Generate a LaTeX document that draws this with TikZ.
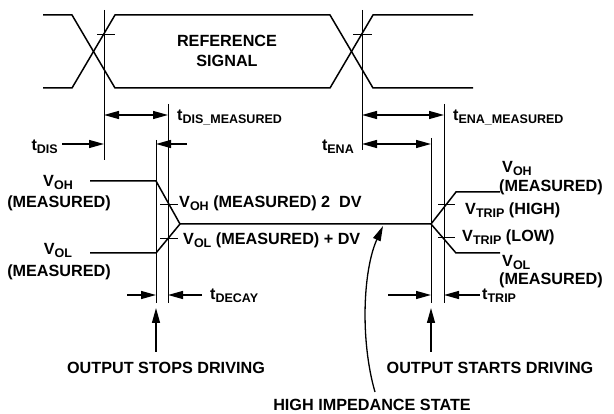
\documentclass[tikz,border=0pt]{standalone}
\usepackage{fontspec}
\setmainfont{Liberation Sans}
\usetikzlibrary{positioning, arrows.meta}

\newcommand{\lowsub}[1]{\raisebox{-2.5pt}{\fontsize{12.5}{12.5}\selectfont #1}}

\begin{document}
\begin{tikzpicture}[x=1pt, y=-1pt]
    % Styles
    \tikzstyle{wave} = [line width=1.5pt]
    \tikzstyle{guide} = [line width=1pt]
    \tikzstyle{dimarrow} = [line width=1.3pt, -{Triangle[length=15pt, width=8pt]}]
    \tikzstyle{dimboth} = [line width=1.3pt, {Triangle[length=15pt, width=8pt]}-{Triangle[length=15pt, width=8pt]}]
    \tikzstyle{lbl} = [font=\bfseries\fontsize{16.2}{19}\selectfont, inner sep=0pt]

    \useasboundingbox (0,0) rectangle (614,414);

    % Reference signal
    \draw[wave] (43,15) -- (72,15) -- (115,88) -- (330,88) -- (373,15) -- (473,15);
    \draw[wave] (43,88) -- (72,88) -- (115,15) -- (330,15) -- (373,88) -- (473,88);

    % Output signal
    \draw[wave] (90,181) -- (156,181) -- (180,224) -- (431,224) -- (456,192) -- (500,192);
    \draw[wave] (90,253) -- (156,253) -- (180,224);
    \draw[wave] (431,224) -- (456,253) -- (500,253);

    % Crossing marks
    \draw[guide] (97,35) -- (115,35);
    \draw[guide] (353,35) -- (372,35);
    \draw[guide] (160,205) -- (178,205);
    \draw[guide] (160,239) -- (178,239);
    \draw[guide] (438,205) -- (455,205);
    \draw[guide] (438,238) -- (455,238);

    % Coordinates
    \coordinate (dis top) at (104,10);
    \coordinate (dis bot) at (104,160);
    \coordinate (ena top) at (362,10);
    \coordinate (ena bot) at (362,150);
    \coordinate (stop top) at (156,140);
    \coordinate (stop bot) at (156,303);
    \coordinate (decay top) at (168,104);
    \coordinate (decay bot) at (168,303);
    \coordinate (start top) at (431,138);
    \coordinate (start bot) at (431,303);
    \coordinate (trip top) at (444,104);
    \coordinate (trip bot) at (444,303);

    % Guide lines
    \draw[guide] (dis top) -- (dis bot);
    \draw[guide] (ena top) -- (ena bot);
    \draw[guide] (stop top) -- (stop bot);
    \draw[guide] (decay top) -- (decay bot);
    \draw[guide] (start top) -- (start bot);
    \draw[guide] (trip top) -- (trip bot);

    % Labels
    \node[lbl, anchor=base] (ref1) at (227,47) {REFERENCE};
    \node[lbl, anchor=base] (ref2) at (227,67) {SIGNAL};
    \node[lbl, anchor=base west] (tdism) at (177,121) {t\lowsub{DIS\_MEASURED}};
    \node[lbl, anchor=base west] (tenam) at (453,121) {t\lowsub{ENA\_MEASURED}};
    \node[lbl, anchor=base east] (tdis) at (58,151) {t\lowsub{DIS}};
    \node[lbl, anchor=base east] (tena) at (354,151) {t\lowsub{ENA}};
    \node[lbl, anchor=base] (vohl) at (58,187) {V\lowsub{OH}};
    \node[lbl, anchor=base] (meas1) at (59,208) {(MEASURED)};
    \node[lbl, anchor=base] (voll) at (58,255) {V\lowsub{OL}};
    \node[lbl, anchor=base] (meas2) at (59,277) {(MEASURED)};
    \node[lbl, anchor=base west] (vohr) at (502,173) {V\lowsub{OH}};
    \node[lbl, anchor=base west] (meas3) at (499,192) {(MEASURED)};
    \node[lbl, anchor=base west] (volr) at (502,267) {V\lowsub{OL}};
    \node[lbl, anchor=base west] (meas4) at (499,285) {(MEASURED)};
    \node[lbl, anchor=base west] (vtriph) at (465,215) {V\lowsub{TRIP} (HIGH)};
    \node[lbl, anchor=base west] (vtripl) at (462,242) {V\lowsub{TRIP} (LOW)};
    \node[lbl, anchor=base west] (vohm) at (179,208) {V\lowsub{OH} (MEASURED) 2\ \ DV};
    \node[lbl, anchor=base west] (volm) at (183,245) {V\lowsub{OL} (MEASURED) + DV};
    \node[lbl, anchor=base west] (tdecay) at (210,300) {t\lowsub{DECAY}};
    \node[lbl, anchor=base west] (ttrip) at (482,300) {t\lowsub{TRIP}};
    \node[lbl, anchor=base] (stops) at (166,374) {OUTPUT STOPS DRIVING};
    \node[lbl, anchor=base] (starts) at (490,374) {OUTPUT STARTS DRIVING};
    \node[lbl, anchor=base] (himp) at (372,411) {HIGH IMPEDANCE STATE};

    % Arrow ends
    \coordinate (dism a) at (104,115);
    \coordinate (dism b) at (168,115);
    \coordinate (enam a) at (362,115);
    \coordinate (enam b) at (444,115);
    \coordinate (dis a) at (62,144);
    \coordinate (dis b) at (104,144);
    \coordinate (dis c) at (187,144);
    \coordinate (dis d) at (156,144);
    \coordinate (ena a) at (362,144);
    \coordinate (ena b) at (431,144);
    \coordinate (decay a) at (127,295);
    \coordinate (decay b) at (156,295);
    \coordinate (decay c) at (202,295);
    \coordinate (decay d) at (168,295);
    \coordinate (trip a) at (388,295);
    \coordinate (trip b) at (431,295);
    \coordinate (trip c) at (480,295);
    \coordinate (trip d) at (444,295);
    \coordinate (stop a) at (156,352);
    \coordinate (stop b) at (156,308);
    \coordinate (start a) at (431,352);
    \coordinate (start b) at (431,308);
    \coordinate (himp a) at (375,392);
    \coordinate (himp b) at (383,226);

    % Arrows
    \draw[dimboth] (dism a) -- (dism b);
    \draw[dimboth] (enam a) -- (enam b);
    \draw[dimarrow] (dis a) -- (dis b);
    \draw[dimarrow] (dis c) -- (dis d);
    \draw[dimboth] (ena a) -- (ena b);
    \draw[dimarrow] (decay a) -- (decay b);
    \draw[dimarrow] (decay c) -- (decay d);
    \draw[dimarrow] (trip a) -- (trip b);
    \draw[dimarrow] (trip c) -- (trip d);
    \draw[dimarrow] (stop a) -- (stop b);
    \draw[dimarrow] (start a) -- (start b);
    \draw[dimarrow] (himp a) .. controls (360,340) and (363,270) .. (himp b);
\end{tikzpicture}
\end{document}
